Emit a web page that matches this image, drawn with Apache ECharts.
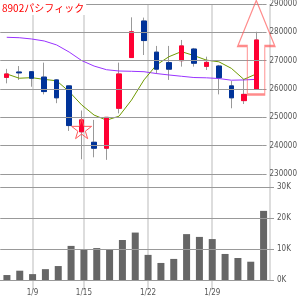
<!DOCTYPE html>
<html>
<head>
<meta charset="utf-8">
<script src="https://cdn.jsdelivr.net/npm/echarts@6/dist/echarts.min.js"></script>
<style>
html, body { margin: 0; padding: 0; background: #fff; }
#chart { width: 300px; height: 300px; }
</style>
</head>
<body>
<div id="chart"></div>
<script>
const dates = ['1/7', '1/8', '1/9', '1/10', '1/11', '1/14', '1/15', '1/16', '1/17', '1/18', '1/21',
    '1/22', '1/23', '1/24', '1/25', '1/28', '1/29', '1/30', '1/31', '2/1', '2/4']
const opens = [264100, 266000, 266100, 264200, 263200, 261100, 244900, 241200, 239100, 253200, 271100,
    284000, 273000, 269300, 270000, 274100, 268000, 268100, 261100, 255900, 259900]
const closes = [265300, 265700, 263800, 259100, 256900, 247100, 249100, 239100, 250000, 265300, 280200,
    277100, 267000, 267000, 275200, 269100, 269400, 264000, 256900, 258100, 277300]
const lows = [262000, 263200, 260800, 258100, 255000, 245200, 235200, 235900, 235000, 251400, 271100,
    272000, 265300, 263200, 267900, 267900, 266700, 258100, 253200, 254700, 259900]
const highs = [267100, 268100, 266200, 269300, 263500, 261200, 252400, 249100, 250000, 269300, 285300,
    285200, 275200, 275200, 277300, 274500, 271400, 268500, 262800, 263500, 280200]
const maShort = [265300, 263800, 264000, 263400, 262900, 259100, 254400, 250800, 249000, 250400, 256100,
    263200, 268500, 271400, 273200, 271800, 270200, 269600, 267300, 263400, 265300]
const maLong = [278250, 278100, 277650, 276950, 275550, 273050, 270050, 268100, 266800, 266350, 266250,
    266100, 265450, 264950, 264500, 264050, 263950, 263700, 263100, 263200, 263400]
const volumes = [1600, 3000, 1900, 3500, 4500, 11000, 9700, 10300, 9900, 12900, 15300,
    8100, 5500, 6800, 14800, 13900, 13200, 8400, 7100, 5900, 22300]
const labelDates = ['1/9', '1/15', '1/22', '1/29']
const priceTicks = [230000, 240000, 250000, 260000, 270000, 280000, 290000]
const volumeTicks = [0, 10000, 20000, 30000]
const starMark = ['1/15', 246000]
const arrowMark = ['2/4', 274650]

const UP = '#ff0033'
const DOWN = '#003399'
const WICK = '#999999'
const GRID = '#999999'
const labelFont = { fontSize: 8, color: '#555', fontFamily: '"Liberation Sans Narrow", "DejaVu Sans Condensed", sans-serif' }

const starPath = 'path://M50,0 L61,35 L98,35 L68,57 L79,91 L50,70 L21,91 L32,57 L2,35 L39,35 Z'
const arrowPath = 'path://M18.5,0 L37,45.5 L27,45.5 L27,94 L9.5,94 L9.5,45.5 L0,45.5 Z'

const wickData = dates.map((d, i) => [opens[i], closes[i], lows[i], highs[i]])
const bodyData = dates.map((d, i) => [opens[i], closes[i], Math.min(opens[i], closes[i]), Math.max(opens[i], closes[i])])

const gridMarkLine = (ticks) => ({
    silent: true,
    symbol: ['none', 'none'],
    label: { show: false },
    lineStyle: { color: GRID, width: 1, type: 'solid' },
    data: ticks.map((v) => ({ yAxis: v })),
})

const chart = echarts.init(document.getElementById('chart'))

const option = {
    animation: false,
    title: {
        text: '8902パシフィック',
        left: 0,
        top: 0,
        padding: [3, 2, 2, 2],
        backgroundColor: '#fff',
        textStyle: { color: '#ff0000', fontSize: 10, fontWeight: 'normal', fontFamily: '"Noto Sans CJK JP", sans-serif' },
    },
    grid: [
        { left: 0.5, right: 30, top: 4, height: 170 },
        { left: 0.5, right: 30, top: 187, height: 93 },
    ],
    xAxis: [
        {
            type: 'category',
            gridIndex: 0,
            data: dates,
            axisLine: { show: false },
            axisTick: { show: false },
            axisLabel: { show: false },
            splitLine: { show: false },
        },
        {
            type: 'category',
            gridIndex: 1,
            data: dates,
            axisLine: { lineStyle: { color: GRID, width: 1 } },
            axisTick: { alignWithLabel: true, interval: 0, length: 4, lineStyle: { color: '#bbb' } },
            axisLabel: {
                ...labelFont,
                margin: 9,
                interval: (i, v) => labelDates.includes(v),
            },
            splitLine: { show: false },
        },
    ],
    yAxis: [
        {
            type: 'value',
            gridIndex: 0,
            position: 'right',
            min: priceTicks[0],
            max: priceTicks[priceTicks.length - 1],
            interval: priceTicks[1] - priceTicks[0],
            axisLine: { show: false },
            axisTick: { show: true, length: 4, lineStyle: { color: GRID } },
            axisLabel: { ...labelFont, margin: 7, formatter: (v) => String(v) },
            splitLine: { show: true, lineStyle: { color: GRID, width: 1 } },
        },
        {
            type: 'value',
            gridIndex: 1,
            position: 'right',
            min: volumeTicks[0],
            max: volumeTicks[volumeTicks.length - 1],
            interval: volumeTicks[1] - volumeTicks[0],
            axisLine: { show: false },
            axisTick: { show: true, length: 4, lineStyle: { color: GRID } },
            axisLabel: { ...labelFont, margin: 7, formatter: (v) => v / 1000 + 'K' },
            splitLine: { show: true, lineStyle: { color: GRID, width: 1 } },
        },
    ],
    series: [
        {
            type: 'candlestick',
            xAxisIndex: 0,
            yAxisIndex: 0,
            barWidth: 5,
            data: wickData,
            itemStyle: { color: WICK, color0: WICK, borderColor: WICK, borderColor0: WICK, borderWidth: 1 },
            z: 2,
            markLine: gridMarkLine(priceTicks),
        },
        {
            type: 'line',
            xAxisIndex: 0,
            yAxisIndex: 0,
            data: maLong,
            showSymbol: false,
            lineStyle: { color: '#9933ff', width: 1 },
            z: 3,
        },
        {
            type: 'line',
            xAxisIndex: 0,
            yAxisIndex: 0,
            data: maShort,
            showSymbol: false,
            lineStyle: { color: '#6f9a00', width: 1 },
            z: 3,
        },
        {
            type: 'candlestick',
            xAxisIndex: 0,
            yAxisIndex: 0,
            barWidth: 5,
            data: bodyData,
            itemStyle: { color: UP, color0: DOWN, borderColor: UP, borderColor0: DOWN, borderWidth: 1 },
            z: 4,
            markPoint: {
                silent: true,
                label: { show: false },
                data: [
                    {
                        coord: starMark,
                        symbol: starPath,
                        symbolSize: 20,
                        itemStyle: { color: 'rgba(0,0,0,0)', borderColor: '#ff5a5a', borderWidth: 1 },
                    },
                    {
                        coord: arrowMark,
                        symbol: arrowPath,
                        symbolSize: [37, 94],
                        symbolKeepAspect: false,
                        itemStyle: { color: 'rgba(0,0,0,0)', borderColor: 'rgba(255,90,90,0.7)', borderWidth: 1.5 },
                    },
                ],
            },
        },
        {
            type: 'bar',
            xAxisIndex: 1,
            yAxisIndex: 1,
            data: volumes,
            barWidth: 7,
            itemStyle: { color: '#666' },
            z: 3,
            markLine: gridMarkLine(volumeTicks),
        },
    ],
}

chart.setOption(option)

// vertical guides through both panels, placed from the category axis
const px = (d) => chart.convertToPixel({ xAxisIndex: 1 }, d)
const band = px(dates[1]) - px(dates[0])
const rightX = px(dates[dates.length - 1]) + band / 2
const topY = chart.convertToPixel({ yAxisIndex: 0 }, priceTicks[priceTicks.length - 1])
const botY = chart.convertToPixel({ yAxisIndex: 1 }, 0)

const vLine = (x, y1, y2) => ({
    type: 'rect',
    silent: true,
    z: 0,
    shape: { x: Math.round(x) - 1, y: y1, width: 2, height: y2 - y1 },
    style: { fill: '#ddd' },
})

chart.setOption({
    graphic: [
        ...labelDates.map((d) => vLine(px(d), topY, botY + 10)),
        vLine(rightX, topY, botY),
    ],
})
</script>
</body>
</html>
